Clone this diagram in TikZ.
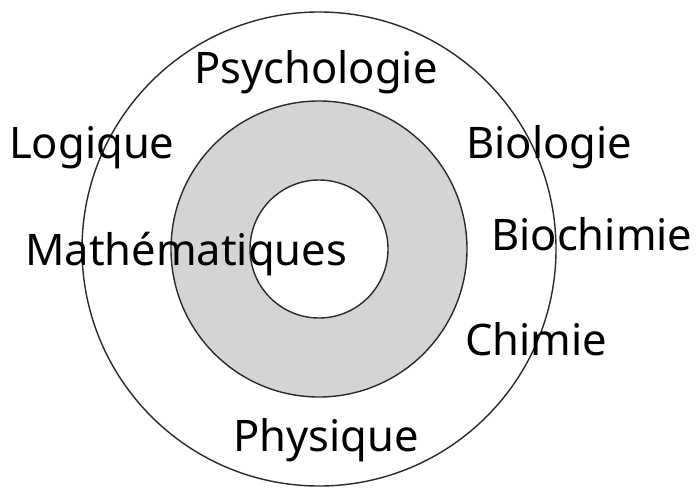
\documentclass[tikz,border=0pt]{standalone}
\usepackage{fontspec}
\setmainfont{Noto Sans}
\definecolor{ringgray}{HTML}{D4D4D4}
\definecolor{linegray}{HTML}{2A2A2A}
\begin{document}
\begin{tikzpicture}[x=1pt,y=1pt,
  circ/.style={draw=linegray,line width=1.4pt},
  lbl/.style={anchor=base west,inner sep=0pt,font=\fontsize{43.5}{48}\selectfont,text=black}]
\useasboundingbox (0,0) rectangle (696,491);
\coordinate (c) at (319,242);
\draw[circ] (c) circle[radius=237];
\fill[ringgray] (c) circle[radius=148];
\draw[circ] (c) circle[radius=148];
\draw[circ,fill=white] (c) circle[radius=69];
\node[lbl] (psy) at (194,407) {Psychologie};
\node[lbl] (log) at (9,332) {Logique};
\node[lbl] (mat) at (25,226) {Mathématiques};
\node[lbl] (bio) at (466,333) {Biologie};
\node[lbl] (bch) at (491,241) {Biochimie};
\node[lbl] (chi) at (465,136) {Chimie};
\node[lbl] (phy) at (233,40) {Physique};
\end{tikzpicture}
\end{document}
